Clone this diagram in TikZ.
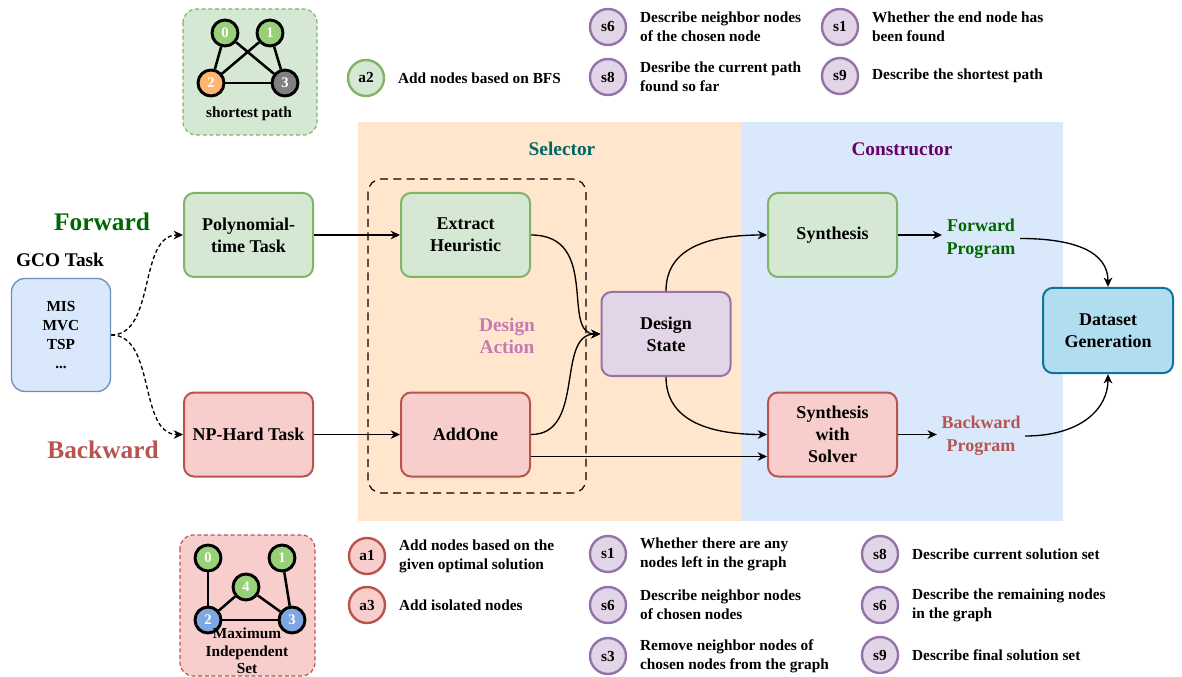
\documentclass[tikz,border=0pt]{standalone}
\usepackage{fontspec}
\setmainfont{Liberation Serif}
\usetikzlibrary{arrows.meta}

\definecolor{gfill}{HTML}{D5E8D4}
\definecolor{gline}{HTML}{82B366}
\definecolor{rfill}{HTML}{F8CECC}
\definecolor{rline}{HTML}{B85450}
\definecolor{pfill}{HTML}{E1D5E7}
\definecolor{pline}{HTML}{9673A6}
\definecolor{bfill}{HTML}{DAE8FC}
\definecolor{bline}{HTML}{6C8EBF}
\definecolor{dfill}{HTML}{B1DDF0}
\definecolor{dline}{HTML}{10739E}
\definecolor{ofill}{HTML}{FFE6CC}
\definecolor{vgreen}{HTML}{97D077}
\definecolor{vorange}{HTML}{FFB570}
\definecolor{vgrey}{HTML}{808080}
\definecolor{vblue}{HTML}{7EA6E0}
\definecolor{fwdcol}{HTML}{006600}
\definecolor{selcol}{HTML}{006666}
\definecolor{concol}{HTML}{660066}
\definecolor{actcol}{HTML}{C47BB4}

\tikzset{
  box/.style={rectangle, rounded corners=7.5pt, line width=1.5pt, minimum width=96.75pt, minimum height=63pt, align=center, font=\fontsize{13.5}{16.5}\selectfont\bfseries},
  greenbox/.style={box, draw=gline, fill=gfill},
  redbox/.style={box, draw=rline, fill=rfill},
  tag/.style={circle, line width=1.8pt, minimum size=27pt, inner sep=0pt, font=\fontsize{11.5}{13}\selectfont\bfseries},
  note/.style={anchor=west, align=left, inner sep=0pt, font=\fontsize{11.5}{14.25}\selectfont\bfseries},
  vertex/.style={circle, draw=black, line width=2.2pt, minimum size=19.5pt, inner sep=0pt, text=white, font=\fontsize{11}{12}\selectfont\bfseries},
  gedge/.style={line width=1.9pt},
  sample/.style={line width=0.9pt, dash pattern=on 3pt off 2pt, rounded corners=10pt},
  flow/.style={-{Stealth[length=7pt,width=6.5pt]}, line width=1pt},
  title/.style={font=\fontsize{14.5}{17}\selectfont\bfseries, align=center},
  prog/.style={font=\fontsize{13.5}{17}\selectfont\bfseries, align=center},
}

\begin{document}
\begin{tikzpicture}[x=0.75pt,y=-0.75pt]
\useasboundingbox (0,0) rectangle (1182,677);

% BACKGROUND PANELS
\fill[ofill] (358,122) rectangle (741,521);
\fill[bfill] (741,122) rectangle (1063,521);
\node[title, text=selcol] (sel) at (562,149) {Selector};
\node[title, text=concol] (con) at (902,149) {Constructor};
\draw[line width=0.9pt, dash pattern=on 6pt off 4pt, rounded corners=10pt] (368,179) rectangle (586,493);
\node[title, text=actcol] (act) at (507,336) {Design\\Action};

% Draw the sample graphs
\draw[sample, draw=gline, fill=gfill] (183,9) rectangle (317,135);
\foreach \n/\x/\y/\c in {0/225/33/vgreen, 1/270/33/vgreen, 2/211/83/vorange, 3/285/83/vgrey} {
  \node[vertex, fill=\c] (p\n) at (\x,\y) {\n};
}
\foreach \a/\b in {0/2, 0/3, 1/2, 1/3, 2/3} {
  \draw[gedge] (p\a) -- (p\b);
}
\node[font=\fontsize{11.5}{13}\selectfont\bfseries] (sp) at (249,114) {shortest path};

\draw[sample, draw=rline, fill=rfill] (180,535) rectangle (315,676);
\foreach \n/\x/\y/\c in {0/208/558/vgreen, 1/282/558/vgreen, 4/246/587/vgreen, 2/208/620/vblue, 3/292/620/vblue} {
  \node[vertex, fill=\c] (m\n) at (\x,\y) {\n};
}
\foreach \a/\b in {0/2, 1/3, 4/2, 4/3, 2/3} {
  \draw[gedge] (m\a) -- (m\b);
}
\node[align=center, font=\fontsize{11.5}{13}\selectfont\bfseries] (mis) at (247,651) {Maximum\\Independent\\Set};

% Legend, top
\node[tag, draw=gline, fill=gfill] (ta1) at (366,78) {a2};
\node[note] (na1) at ([xshift=9.5pt]ta1.east) {Add nodes based on BFS};
\foreach \i/\j/\k/\t [count=\c] in {608/27/s6/{Describe neighbor nodes\\of the chosen node}, 608/77/s8/{Desribe the current path\\found so far}, 840/27/s1/{Whether the end node has\\been found}, 840/76/s9/{Describe the shortest path}} {
  \node[tag, draw=pline, fill=pfill] (ts\c) at (\i,\j) {\k};
  \node[note] (ns\c) at ([xshift=9.5pt]ts\c.east) {\t};
}

% Legend, bottom
\foreach \i/\j/\k/\t [count=\c] in {367/556/a1/{Add nodes based on the\\given optimal solution}, 367/605/a3/{Add isolated nodes}} {
  \node[tag, draw=rline, fill=rfill] (ba\c) at (\i,\j) {\k};
  \node[note] (nba\c) at ([xshift=9.5pt]ba\c.east) {\t};
}
\foreach \i/\j/\k/\t [count=\c] in {608/554/s1/{Whether there are any\\nodes left in the graph}, 608/605/s6/{Describe neighbor nodes\\of chosen nodes}, 608/656/s3/{Remove neighbor nodes of\\chosen nodes from the graph}, 880/554/s8/{Describe current solution set}, 880/605/s6/{Describe the remaining nodes\\in the graph}, 880/655/s9/{Describe final solution set}} {
  \node[tag, draw=pline, fill=pfill] (bs\c) at (\i,\j) {\k};
  \node[note] (nbs\c) at ([xshift=9.5pt]bs\c.east) {\t};
}

% MAIN FLOW
\node[font=\fontsize{19}{22}\selectfont\bfseries, text=fwdcol] (fwd) at (102,222) {Forward};
\node[font=\fontsize{19}{22}\selectfont\bfseries, text=rline] (bwd) at (103,450) {Backward};
\node[font=\fontsize{14.5}{17}\selectfont\bfseries] (gcot) at (60,260) {GCO Task};
\node[rectangle, rounded corners=10pt, draw=bline, fill=bfill, line width=1pt, minimum width=74.25pt, minimum height=84.75pt, align=center, font=\fontsize{11.5}{14.25}\selectfont\bfseries] (gco) at (61,335) {MIS\\MVC\\TSP\\...};

\node[greenbox] (poly) at (248.5,235) {Polynomial-\\time Task};
\node[redbox] (np) at (248.5,434.5) {NP-Hard Task};
\node[greenbox] (ext) at (465.5,235) {Extract\\Heuristic};
\node[redbox] (add) at (465.5,434.5) {AddOne};
\node[box, draw=pline, fill=pfill] (ds) at (666,334) {Design\\State};
\node[greenbox] (syn) at (832.5,235) {Synthesis};
\node[redbox] (sws) at (832.5,434.5) {Synthesis\\with\\Solver};
\node[box, draw=dline, fill=dfill, minimum width=97.5pt, minimum height=64pt] (dset) at (1108,330.5) {Dataset\\Generation};
\node[prog, text=fwdcol] (fprog) at (981,238.5) {Forward\\Program};
\node[prog, text=rline] (bprog) at (981,436) {Backward\\Program};

% Draw connectors
\draw[flow, dash pattern=on 3pt off 2pt] (gco.east) .. controls +(45,0) and +(-45,0) .. (poly.west);
\draw[flow, dash pattern=on 3pt off 2pt] (gco.east) .. controls +(45,0) and +(-45,0) .. (np.west);
\draw[flow] (poly) -- (ext);
\draw[flow] (np) -- (add);
\draw[flow] (ext.east) .. controls +(70,0) and +(-40,0) .. (ds.west);
\draw[flow] (add.east) .. controls +(55,0) and +(-45,0) .. (ds.west);
\draw[flow] (ds.north) .. controls +(0,-45) and +(-55,0) .. (syn.west);
\draw[flow] (ds.south) .. controls +(0,45) and +(-55,0) .. (sws.west);
\draw[flow] ([yshift=-16.5pt]add.east) -- ([yshift=-16.5pt]add.east -| sws.west);
\draw[flow] (syn.east) -- (syn.east -| fprog.west);
\draw[flow] (sws.east) -- (sws.east -| bprog.west);
\draw[flow] (fprog.east) .. controls +(55,0) and +(0,-35) .. (dset.north);
\draw[flow] (bprog.east) .. controls +(55,0) and +(0,35) .. (dset.south);

\end{tikzpicture}
\end{document}
